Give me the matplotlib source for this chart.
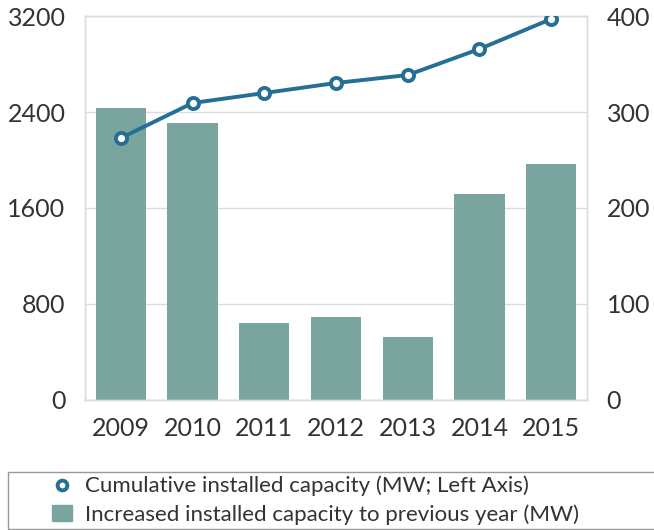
import matplotlib.pyplot as plt
import matplotlib.patches as patches
from matplotlib.lines import Line2D

years = ['2009', '2010', '2011', '2012', '2013', '2014', '2015']
cumulative = [2183, 2475, 2558, 2642, 2708, 2925, 3175]
increase = [304, 289, 80, 86, 66, 215, 246]

left_ticks = [0, 800, 1600, 2400, 3200]
right_ticks = [0, 100, 200, 300, 400]

bar_color = '#7aa59e'
line_color = '#256f97'
grid_color = '#dcdcdc'
text_color = '#333333'

plt.rcParams['font.family'] = ['Lato', 'DejaVu Sans']

fig = plt.figure(figsize=(6.54, 5.30), dpi=100)
ax = fig.add_axes([0.130, 0.2453, 0.7676, 0.7245])
ax2 = ax.twinx()

x = range(len(years))
ax2.bar(x, increase, width=0.7, color=bar_color, zorder=2)
ax.plot(x, cumulative, color=line_color, linewidth=2.8, marker='o', markersize=8,
        markerfacecolor='white', markeredgecolor=line_color, markeredgewidth=2.8, zorder=5)

# line above bars
ax.set_zorder(ax2.get_zorder() + 1)
ax.patch.set_visible(False)

ax.set_xlim(-0.5, len(years) - 0.5)
ax.set_ylim(0, 3200)
ax2.set_ylim(0, 400)
ax.set_yticks(left_ticks)
ax2.set_yticks(right_ticks)
ax.set_xticks(list(x))
ax.set_xticklabels(years)

for y in left_ticks:
    ax2.axhline(y * 400 / 3200, color=grid_color, linewidth=1, zorder=0)

for a in (ax, ax2):
    for s in a.spines.values():
        s.set_color(grid_color)
        s.set_linewidth(1)
    a.tick_params(length=0, labelsize=18, colors=text_color)
ax.tick_params(axis='y', pad=14)
ax2.tick_params(axis='y', pad=14)
ax.tick_params(axis='x', pad=12)

# legend box
fig.patches.append(patches.Rectangle((0.012, 0.002), 0.99, 0.108, transform=fig.transFigure,
                                     fill=False, edgecolor='#999999', linewidth=1))
handles = [
    Line2D([], [], color=line_color, linestyle='none', marker='o', markersize=7,
           markerfacecolor='white', markeredgewidth=2.8),
    patches.Patch(color=bar_color),
]
labels = ['Cumulative installed capacity (MW; Left Axis)',
          'Increased installed capacity to previous year (MW)']
fig.legend(handles, labels, loc='center left', bbox_to_anchor=(0.062, 0.056), frameon=False,
           fontsize=16, handlelength=0.9, handletextpad=0.6, labelspacing=0.35,
           labelcolor=text_color, borderpad=0)

fig.savefig('out.png', dpi=100)
